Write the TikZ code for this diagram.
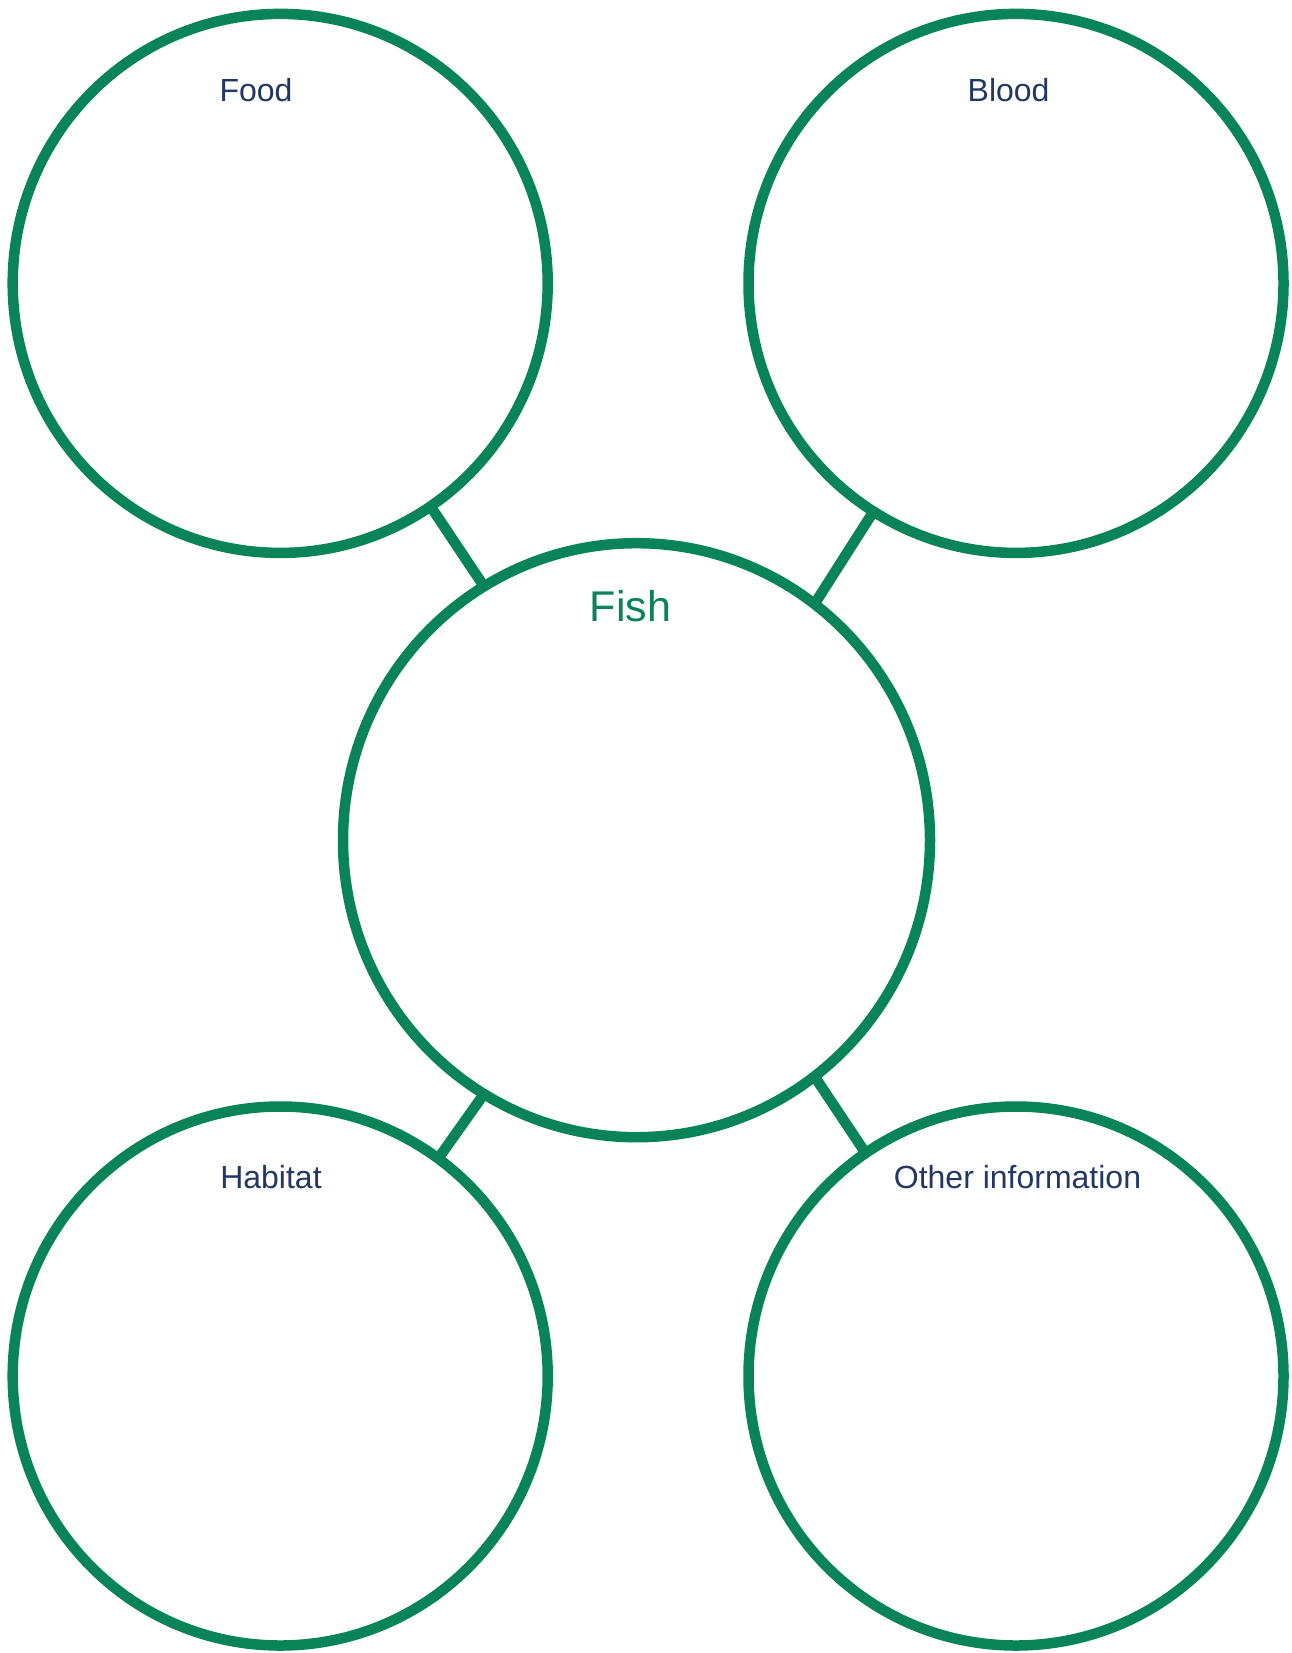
\documentclass[tikz,border=0pt]{standalone}
\usepackage{fontspec}
\usetikzlibrary{shapes.geometric}
\setmainfont{Liberation Sans}
\definecolor{fishgreen}{RGB}{8,132,88}
\definecolor{labelnavy}{RGB}{35,55,100}
\begin{document}
\begin{tikzpicture}[x=1pt,y=-1pt,
  bubble/.style={ellipse,draw=fishgreen,line width=10.5pt,inner sep=0pt,outer sep=0pt,fill=none},
  small/.style={bubble,minimum width=535pt,minimum height=539pt},
  link/.style={draw=fishgreen,line width=10.5pt},
  lbl/.style={anchor=base,text=labelnavy,font=\fontsize{32}{38}\selectfont,inner sep=0pt},
  title/.style={anchor=base,text=fishgreen,font=\fontsize{43}{50}\selectfont,inner sep=0pt}]
\useasboundingbox (0,0) rectangle (1291,1653);
\node[small] (tl) at (280.2,283.4) {};
\node[small] (tr) at (1016,283.4) {};
\node[small] (bl) at (280.2,1376) {};
\node[small] (br) at (1016,1376) {};
\node[bubble,minimum width=587pt,minimum height=594pt] (c) at (636.5,840.2) {};
\draw[link] (tl.-56.5) -- (c.121.3);
\draw[link] (tr.-122.5) -- (c.53.8);
\draw[link] (bl.54.1) -- (c.-121.5);
\draw[link] (br.124.3) -- (c.-53.7);
\node[lbl] (food) at (256,101.7) {Food};
\node[lbl] (blood) at (1008.6,101.7) {Blood};
\node[title] (fish) at (630.5,621.7) {Fish};
\node[lbl] (habitat) at (271,1188) {Habitat};
\node[lbl] (other) at (1017.5,1188) {Other information};
\end{tikzpicture}
\end{document}
